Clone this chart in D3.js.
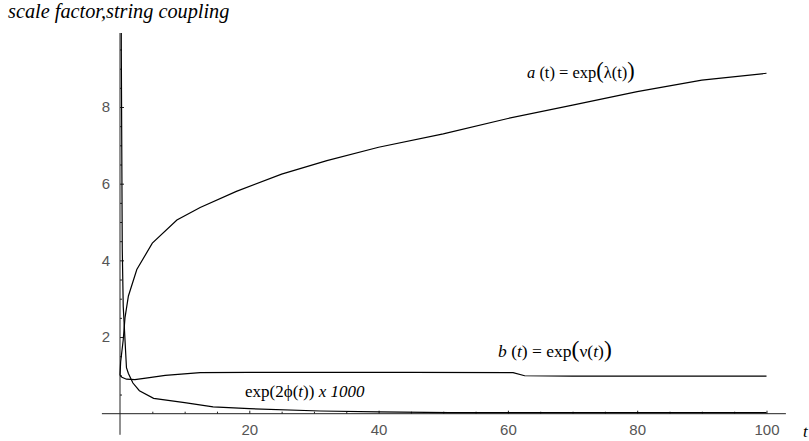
<!DOCTYPE html>
<html>
<head>
<meta charset="utf-8">
<script src="https://cdn.jsdelivr.net/npm/d3@7"></script>
<style>
  body { margin: 0; background: #fff; }
  svg { display: block; }
</style>
</head>
<body>
<div id="chart"></div>
<script>
// data
let tA = [0, 0.1, 0.5, 0.77, 1.3, 2.6, 5, 8.8, 12.4, 18, 25, 32, 40, 50, 60, 70, 80, 90, 100];
let aVals = [1.0, 1.35, 1.93, 2.5, 3.07, 3.76, 4.45, 5.05, 5.38, 5.8, 6.25, 6.6, 6.95, 7.3, 7.7, 8.05, 8.4, 8.7, 8.88];

let tB = [0, 0.3, 1, 2.3, 4, 7, 12.4, 20, 30, 45, 60.8, 62.6, 70, 85, 100];
let bVals = [1.0, 0.95, 0.9, 0.89, 0.93, 1.0, 1.07, 1.08, 1.08, 1.08, 1.07, 0.99, 0.98, 0.98, 0.98];

let tPhi = [0.05, 0.2, 0.35, 0.5, 1.0, 1.3, 2, 3, 5.2, 10, 14.4, 20, 31, 40, 51, 60, 80, 100];
let phiVals = [30, 9.5, 4.3, 2.8, 1.2, 1.05, 0.8, 0.6, 0.4, 0.29, 0.18, 0.13, 0.07, 0.05, 0.03, 0.03, 0.03, 0.03];

let xMajor = [20, 40, 60, 80, 100];
let yMajor = [2, 4, 6, 8];

let WIDTH = 809,
    HEIGHT = 441;

let svg = d3.select('#chart')
    .append('svg')
    .attr('width', WIDTH)
    .attr('height', HEIGHT);

let x = d3.scaleLinear().domain([0, 100]).range([120, 766.5]);
let y = d3.scaleLinear().domain([0, 8]).range([413.7, 107]);

let TOP = 33;

svg.append('clipPath')
    .attr('id', 'plot-clip')
    .append('rect')
    .attr('x', 0)
    .attr('y', TOP)
    .attr('width', WIDTH)
    .attr('height', HEIGHT - TOP);

// axis lines (extend a bit past the data)
let axisG = svg.append('g').attr('stroke', '#222').attr('stroke-width', 1);
axisG.append('line')
    .attr('x1', x(-2.8)).attr('x2', x(103))
    .attr('y1', y(0)).attr('y2', y(0));
axisG.append('line')
    .attr('x1', x(0)).attr('x2', x(0))
    .attr('y1', TOP).attr('y2', y(-0.55));

// x ticks, pointing up
let xAxis = d3.axisBottom(x)
    .tickValues(xMajor)
    .tickSizeInner(-3)
    .tickSizeOuter(0)
    .tickPadding(11);
let gx = svg.append('g')
    .attr('transform', `translate(0,${y(0)})`)
    .call(xAxis);

let xMinor = d3.range(5, 101, 5).filter(d => d % 20 !== 0);
svg.append('g')
    .attr('transform', `translate(0,${y(0)})`)
    .call(d3.axisBottom(x).tickValues(xMinor).tickSizeInner(-2).tickSizeOuter(0).tickFormat(''))
    .call(g => g.select('.domain').remove());

// y ticks, pointing right
let yAxis = d3.axisLeft(y)
    .tickValues(yMajor)
    .tickSizeInner(-4)
    .tickSizeOuter(0)
    .tickPadding(10);
let gy = svg.append('g')
    .attr('transform', `translate(${x(0)},0)`)
    .call(yAxis);

let yMinor = d3.range(0.5, 9.9, 0.5).filter(d => d % 2 !== 0);
svg.append('g')
    .attr('transform', `translate(${x(0)},0)`)
    .call(d3.axisLeft(y).tickValues(yMinor).tickSizeInner(-2).tickSizeOuter(0).tickFormat(''))
    .call(g => g.select('.domain').remove());

[gx, gy].forEach(g => {
    g.select('.domain').remove();
    g.selectAll('.tick text')
        .attr('fill', '#555')
        .style('font-family', '"Liberation Sans", Arial, sans-serif')
        .style('font-size', '15px');
});
svg.selectAll('.tick line').attr('stroke', '#222');

// curves
let line = d3.line()
    .x(d => x(d[0]))
    .y(d => y(d[1]));

let series = [
    d3.zip(tA, aVals),
    d3.zip(tB, bVals),
    d3.zip(tPhi, phiVals)
];

svg.append('g')
    .attr('clip-path', 'url(#plot-clip)')
    .selectAll('path')
    .data(series)
    .enter()
    .append('path')
    .attr('d', line)
    .attr('fill', 'none')
    .attr('stroke', '#000')
    .attr('stroke-width', 1.2);

// texts
let serif = '"Liberation Serif", "Times New Roman", serif';

svg.append('text')
    .attr('x', 8)
    .attr('y', 18)
    .style('font-family', serif)
    .style('font-style', 'italic')
    .style('font-size', '20.3px')
    .text('scale factor,string coupling');

svg.append('text')
    .attr('x', 803)
    .attr('y', 437)
    .style('font-family', serif)
    .style('font-style', 'italic')
    .style('font-size', '17px')
    .text('t');

function addLabel(px, py, size, parts) {
    let t = svg.append('text')
        .attr('x', px)
        .attr('y', py)
        .style('font-family', serif)
        .style('font-size', size + 'px');
    parts.forEach(p => {
        let s = t.append('tspan').text(p.s);
        if (p.i) s.style('font-style', 'italic');
        if (p.big) s.style('font-size', (size * 1.35) + 'px');
    });
}

addLabel(527, 78, 16.5, [
    {s: 'a', i: true}, {s: ' (t) = exp'}, {s: '(', big: true},
    {s: 'λ(t)'}, {s: ')', big: true}
]);

addLabel(498, 357, 17.5, [
    {s: 'b', i: true}, {s: ' ('}, {s: 't', i: true}, {s: ') = exp'},
    {s: '(', big: true}, {s: 'ν('}, {s: 't', i: true}, {s: ')'},
    {s: ')', big: true}
]);

addLabel(245, 397, 17, [
    {s: 'exp(2ϕ('}, {s: 't', i: true}, {s: ')) '}, {s: 'x 1000', i: true}
]);
</script>
</body>
</html>
